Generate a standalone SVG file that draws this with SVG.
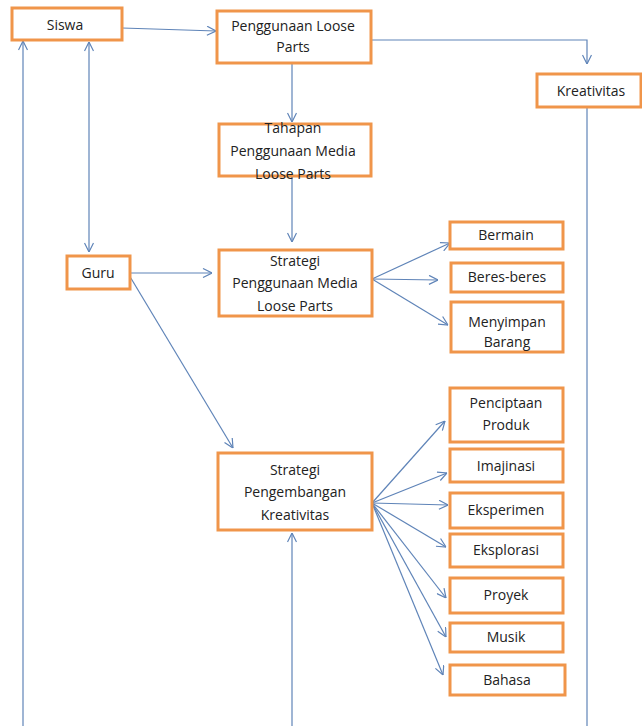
<svg xmlns="http://www.w3.org/2000/svg" width="642" height="726" viewBox="0 0 642 726">
<style>
.box{fill:#fff;stroke:#f0954a;stroke-width:3}
.t{font-family:"Open Sans","Noto Sans",sans-serif;font-size:14px;fill:#222;text-anchor:middle}
.c{fill:none;stroke:#5f84b8;stroke-width:1.2}
</style>
<defs>
<marker id="ah" viewBox="0 0 10 10" refX="10" refY="5" markerWidth="10" markerHeight="10" markerUnits="userSpaceOnUse" orient="auto-start-reverse">
<path d="M1,0.5 L10,5 L1,9.5" fill="none" stroke="#5f84b8" stroke-width="1.2"/>
</marker>
</defs>
<rect width="642" height="726" fill="#fff"/>
<g id="connectors">
<line class="c" x1="23" y1="726" x2="23" y2="41" marker-end="url(#ah)"/>
<line class="c" x1="89" y1="42" x2="89" y2="252" marker-start="url(#ah)" marker-end="url(#ah)"/>
<line class="c" x1="122" y1="28" x2="216" y2="31" marker-end="url(#ah)"/>
<polyline class="c" points="371,40 587,40 587,64" marker-end="url(#ah)"/>
<line class="c" x1="587" y1="107" x2="587" y2="726"/>
<line class="c" x1="292" y1="63" x2="292" y2="122" marker-end="url(#ah)"/>
<line class="c" x1="292" y1="176" x2="292" y2="242" marker-end="url(#ah)"/>
<line class="c" x1="292" y1="726" x2="292" y2="533" marker-end="url(#ah)"/>
<line class="c" x1="130" y1="273" x2="212" y2="273" marker-end="url(#ah)"/>
<line class="c" x1="129" y1="275" x2="233" y2="448" marker-end="url(#ah)"/>
<line class="c" x1="372" y1="279" x2="450" y2="243" marker-end="url(#ah)"/>
<line class="c" x1="372" y1="279" x2="438" y2="280" marker-end="url(#ah)"/>
<line class="c" x1="372" y1="279" x2="448" y2="325" marker-end="url(#ah)"/>
<line class="c" x1="372" y1="503" x2="445" y2="421" marker-end="url(#ah)"/>
<line class="c" x1="372" y1="503" x2="447" y2="473" marker-end="url(#ah)"/>
<line class="c" x1="372" y1="503" x2="448" y2="505" marker-end="url(#ah)"/>
<line class="c" x1="372" y1="503" x2="446" y2="547" marker-end="url(#ah)"/>
<line class="c" x1="372" y1="503" x2="446" y2="598" marker-end="url(#ah)"/>
<line class="c" x1="372" y1="503" x2="446" y2="637" marker-end="url(#ah)"/>
<line class="c" x1="372" y1="503" x2="443" y2="675" marker-end="url(#ah)"/>
</g>
<g id="siswa"><rect class="box" x="12" y="8" width="110" height="32"/><text class="t" x="65" y="30">Siswa</text></g>
<g id="penggunaan"><rect class="box" x="217" y="11" width="154" height="52"/><text class="t" x="293" y="31">Penggunaan Loose</text><text class="t" x="293" y="52">Parts</text></g>
<g id="kreativitas"><rect class="box" x="537" y="74" width="104" height="33"/><text class="t" x="591" y="96">Kreativitas</text></g>
<g id="tahapan"><rect class="box" x="219" y="124" width="152" height="52"/><text class="t" x="293" y="133">Tahapan</text><text class="t" x="293" y="156">Penggunaan  Media</text><text class="t" x="293" y="179">Loose Parts</text></g>
<g id="guru"><rect class="box" x="67" y="256" width="63" height="33"/><text class="t" x="98" y="278">Guru</text></g>
<g id="strategi-penggunaan"><rect class="box" x="219" y="250" width="153" height="66"/><text class="t" x="295" y="266">Strategi</text><text class="t" x="295" y="288">Penggunaan  Media</text><text class="t" x="295" y="311">Loose Parts</text></g>
<g id="bermain"><rect class="box" x="450" y="222" width="113" height="27"/><text class="t" x="506" y="240">Bermain</text></g>
<g id="beres"><rect class="box" x="451" y="263" width="112" height="29"/><text class="t" x="507" y="282">Beres-beres</text></g>
<g id="menyimpan"><rect class="box" x="451" y="302" width="112" height="50"/><text class="t" x="507" y="327">Menyimpan</text><text class="t" x="507" y="347">Barang</text></g>
<g id="strategi-pengembangan"><rect class="box" x="218" y="453" width="154" height="77"/><text class="t" x="295" y="475">Strategi</text><text class="t" x="295" y="497">Pengembangan</text><text class="t" x="295" y="520">Kreativitas</text></g>
<g id="penciptaan"><rect class="box" x="450" y="388" width="113" height="54"/><text class="t" x="506" y="408">Penciptaan</text><text class="t" x="506" y="430">Produk</text></g>
<g id="imajinasi"><rect class="box" x="450" y="449" width="113" height="33"/><text class="t" x="506" y="471">Imajinasi</text></g>
<g id="eksperimen"><rect class="box" x="450" y="493" width="113" height="35"/><text class="t" x="506" y="515">Eksperimen</text></g>
<g id="eksplorasi"><rect class="box" x="450" y="534" width="113" height="33"/><text class="t" x="506" y="555">Eksplorasi</text></g>
<g id="proyek"><rect class="box" x="450" y="578" width="113" height="35"/><text class="t" x="506" y="600">Proyek</text></g>
<g id="musik"><rect class="box" x="450" y="623" width="113" height="29"/><text class="t" x="506" y="642">Musik</text></g>
<g id="bahasa"><rect class="box" x="450" y="665" width="115" height="30"/><text class="t" x="507" y="685">Bahasa</text></g>
</svg>
